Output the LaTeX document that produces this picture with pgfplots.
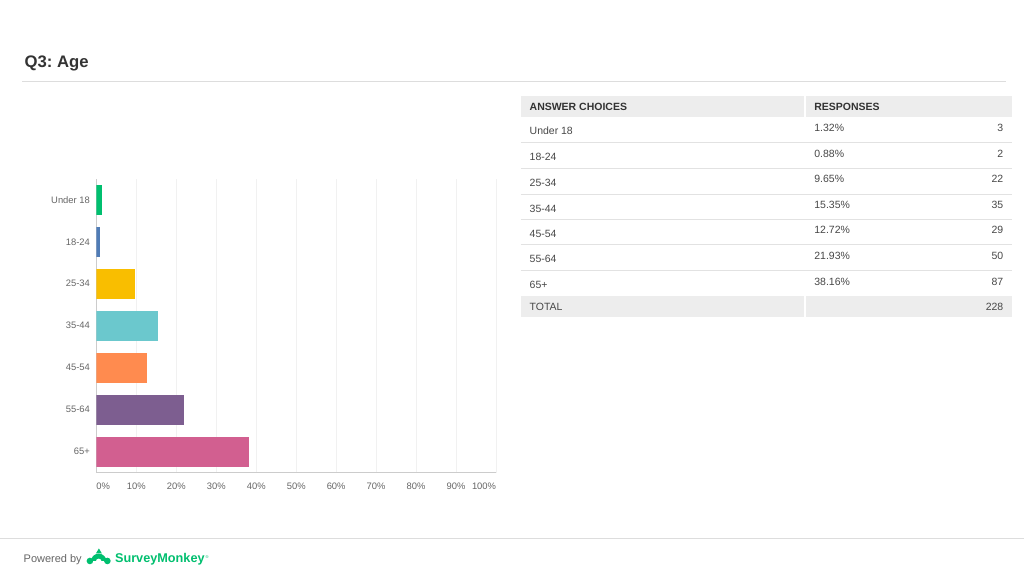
\documentclass[border=0pt]{standalone}
\usepackage{pgfplots}
\pgfplotsset{compat=1.18}
\usepackage{fontspec}
\setmainfont{Liberation Sans}

\definecolor{smgreen}{HTML}{00BF6F}
\definecolor{smblue}{HTML}{507CB6}
\definecolor{smyellow}{HTML}{F9BE00}
\definecolor{smteal}{HTML}{6BC8CD}
\definecolor{smorange}{HTML}{FF8B4F}
\definecolor{smpurple}{HTML}{7D5E90}
\definecolor{smpink}{HTML}{D25F90}
\definecolor{titletxt}{HTML}{333333}
\definecolor{celltxt}{HTML}{474747}
\definecolor{ticktxt}{HTML}{666666}
\definecolor{rulegray}{HTML}{DDDDDD}
\definecolor{rowline}{HTML}{E2E2E2}
\definecolor{hdrfill}{HTML}{EDEDED}
\definecolor{gridgray}{HTML}{F1F1F1}
\definecolor{axisgray}{HTML}{CCCCCC}

\pgfplotsset{agebar/.style={xbar, bar width=30pt, bar shift=0pt, draw=none, fill=#1}}

\begin{document}
\begin{tikzpicture}[x=1pt,y=1pt]
\fill[white] (0,0) rectangle (1024,-576);

% title and rule
\node[anchor=base west, inner sep=0, text=titletxt,
      font=\fontsize{16.7}{20}\selectfont\bfseries] at (24,-68) {Q3:~Age};
\draw[rulegray, line width=1pt] (22,-81.5) -- (1006,-81.5);

% bar chart
\begin{axis}[
    at={(96pt,-473pt)}, anchor=south west,
    scale only axis, width=400pt, height=294pt,
    xmin=0, xmax=100, ymin=-0.5, ymax=6.5,
    axis x line*=bottom, axis y line*=left,
    x axis line style={draw=axisgray, line width=1pt, -},
    y axis line style={draw=axisgray, line width=0.8pt, -},
    xmajorgrids, major grid style={draw=gridgray, line width=0.8pt},
    major tick length=0pt,
    xtick={0,10,...,100},
    xticklabels={\makebox[0pt][l]{0\%},10\%,20\%,30\%,40\%,50\%,60\%,70\%,80\%,90\%,\makebox[0pt][r]{100\%}},
    ytick={0,...,6},
    yticklabels={65+,55-64,45-54,35-44,25-34,18-24,Under 18},
    tick label style={font=\fontsize{9.4}{11}\selectfont, text=ticktxt},
    xticklabel style={yshift=-7pt},
    yticklabel style={xshift=-3pt},
]
\addplot[agebar=smpink]   coordinates {(38.16,0)};
\addplot[agebar=smpurple] coordinates {(21.93,1)};
\addplot[agebar=smorange] coordinates {(12.72,2)};
\addplot[agebar=smteal]   coordinates {(15.35,3)};
\addplot[agebar=smyellow] coordinates {(9.65,4)};
\addplot[agebar=smblue]   coordinates {(0.88,5)};
\addplot[agebar=smgreen]  coordinates {(1.32,6)};
\end{axis}

% table
\fill[hdrfill] (521,-96) rectangle (1012,-117);
\draw[white, line width=2pt] (805,-96) -- (805,-117);
\node[anchor=base west, inner sep=0, text=titletxt, font=\fontsize{10.5}{12}\selectfont\bfseries]
  at (529.5,-110.5) {ANSWER CHOICES};
\node[anchor=base west, inner sep=0, text=titletxt, font=\fontsize{10.5}{12}\selectfont\bfseries]
  at (814.5,-110.5) {RESPONSES};
\foreach \top/\lab/\pct/\n in {117/Under 18/1.32\%/3, 143/18-24/0.88\%/2,
    168.5/25-34/9.65\%/22, 194.5/35-44/15.35\%/35, 219.5/45-54/12.72\%/29,
    245/55-64/21.93\%/50, 271/65+/38.16\%/87} {
  \node[anchor=base west, inner sep=0, text=celltxt, font=\fontsize{10.5}{12}\selectfont]
    at (529.5,-\top-17.9) {\lab};
  \node[anchor=base west, inner sep=0, text=celltxt, font=\fontsize{10.5}{12}\selectfont]
    at (814.5,-\top-14.4) {\pct};
  \node[anchor=base east, inner sep=0, text=celltxt, font=\fontsize{10.5}{12}\selectfont]
    at (1004,-\top-14.4) {\n};
}
\foreach \yy in {143,168.5,194.5,219.5,245,271}
  \draw[rowline, line width=1.2pt] (521,-\yy) -- (1012,-\yy);
\fill[hdrfill] (521,-296.5) rectangle (1012,-317.5);
\draw[white, line width=2pt] (805,-296.5) -- (805,-317.5);
\node[anchor=base west, inner sep=0, text=celltxt, font=\fontsize{10.5}{12}\selectfont]
  at (529.5,-310.5) {TOTAL};
\node[anchor=base east, inner sep=0, text=celltxt, font=\fontsize{10.5}{12}\selectfont]
  at (1004,-310.5) {228};

% footer
\draw[rulegray, line width=1pt] (0,-539) -- (1024,-539);
\node[anchor=base west, inner sep=0, text=ticktxt, font=\fontsize{11}{13}\selectfont]
  at (23,-563) {Powered by};
\fill[smgreen] (89.5,-561.5) circle (3.3);
\fill[smgreen] (107,-561.5) circle (3.3);
\fill[smgreen, even odd rule] (90.5,-562) arc[start angle=180, end angle=0, radius=7.8] -- cycle
  (98.3,-562) circle (3);
\fill[white] (93,-562) rectangle (104,-566);
\fill[smgreen] (95.5,-554) -- (98.5,-549) -- (101.5,-554) -- cycle;
\node[anchor=base west, inner sep=0, text=smgreen, font=\fontsize{12.7}{15}\selectfont\bfseries]
  at (114.5,-563.5) {SurveyMonkey};
\node[anchor=base west, inner sep=0, text=smgreen, font=\fontsize{4}{5}\selectfont]
  at (205,-559) {®};
\end{tikzpicture}
\end{document}
